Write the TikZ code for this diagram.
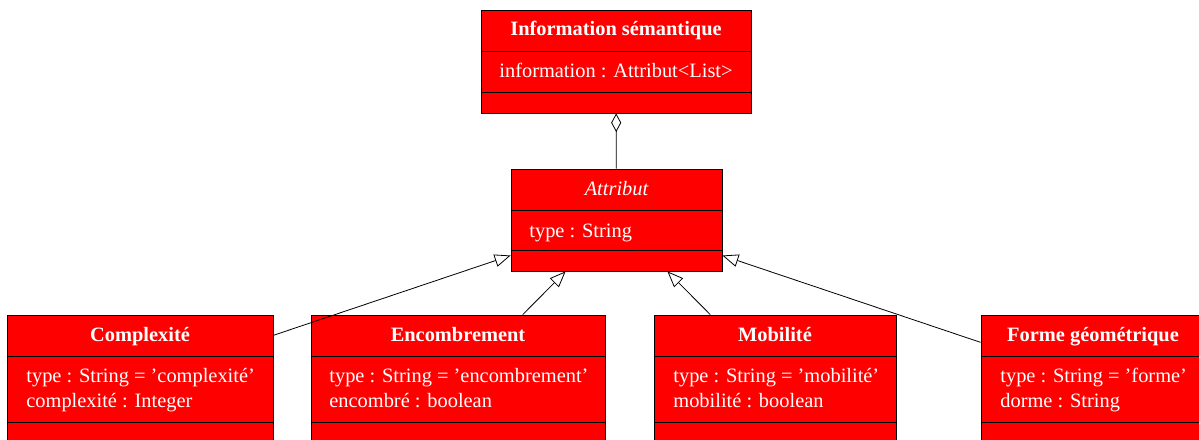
\documentclass[tikz,border=0pt]{standalone}
\usepackage{fontspec}
\setmainfont{Liberation Serif}
\usetikzlibrary{arrows.meta}

\begin{document}
\begin{tikzpicture}[x=0.75pt, y=-0.75pt, line width=0.6pt,
    classe/.style={shape=rectangle, draw=black, fill=red, inner sep=0pt},
    titre/.style={text=white, anchor=base, inner sep=0pt, font=\fontsize{15.3}{18.75}\selectfont\bfseries},
    champ/.style={text=white, anchor=base west, inner sep=0pt, font=\fontsize{15.3}{18.75}\selectfont},
    herite/.style={-{Triangle[open, length=12pt, width=9.5pt]}},
    agrege/.style={{Diamond[open, length=14pt, width=7.5pt]}-}]
  \useasboundingbox (0,0) rectangle (1199,439);

  % classe du haut
  \node (info) [classe, minimum width=202.5pt, minimum height=77.25pt] at (616, 61.5) {};
  \draw (info.west |- 0,51) -- (info.east |- 0,51);
  \draw (info.west |- 0,92) -- (info.east |- 0,92);
  \node (infoT) [titre] at (616, 36) {Information sémantique};
  \node (infoA) [titre, font=\fontsize{15.3}{18.75}\selectfont] at (616, 77) {information : Attribut<List>};

  % classe abstraite
  \node (attr) [classe, minimum width=158.25pt, minimum height=76.5pt] at (616.5, 220) {};
  \draw (attr.west |- 0,210) -- (attr.east |- 0,210);
  \draw (attr.west |- 0,250) -- (attr.east |- 0,250);
  \node (attrT) [titre, font=\fontsize{15.3}{18.75}\selectfont\itshape] at (616.5, 195) {Attribut};
  \node (attrA) [champ] at (529, 237) {type : String};

  % sous-classes
  \node (cplx) [classe, minimum width=199.5pt, minimum height=97.5pt] at (140, 380) {};
  \node (enc) [classe, minimum width=220.5pt, minimum height=97.5pt] at (458, 380) {};
  \node (mob) [classe, minimum width=181.5pt, minimum height=97.5pt] at (775, 380) {};
  \node (forme) [classe, minimum width=168pt, minimum height=97.5pt] at (1093, 380) {};
  \foreach \c in {cplx, enc, mob, forme} {
    \draw (\c.west |- 0,356) -- (\c.east |- 0,356);
    \draw (\c.west |- 0,422) -- (\c.east |- 0,422);
  }

  \node (cplxT) [titre] at (140, 341) {Complexité};
  \node (cplxA) [champ] at (26, 382) {type : String = ’complexité’};
  \node (cplxB) [champ] at (26, 407) {complexité : Integer};

  \node (encT) [titre] at (458, 341) {Encombrement};
  \node (encA) [champ] at (329, 382) {type : String = ’encombrement’};
  \node (encB) [champ] at (329, 407) {encombré : boolean};

  \node (mobT) [titre] at (775, 341) {Mobilité};
  \node (mobA) [champ] at (673, 382) {type : String = ’mobilité’};
  \node (mobB) [champ] at (673, 407) {mobilité : boolean};

  \node (formeT) [titre] at (1093, 341) {Forme géométrique};
  \node (formeA) [champ] at (1000, 382) {type : String = ’forme’};
  \node (formeB) [champ] at (1000, 407) {dorme : String};

  % liens
  \draw [agrege] (info) -- (attr);
  \draw [herite] (cplx) -- (attr);
  \draw [herite] (enc) -- (attr);
  \draw [herite] (mob) -- (attr);
  \draw [herite] (forme) -- (attr);
\end{tikzpicture}
\end{document}
